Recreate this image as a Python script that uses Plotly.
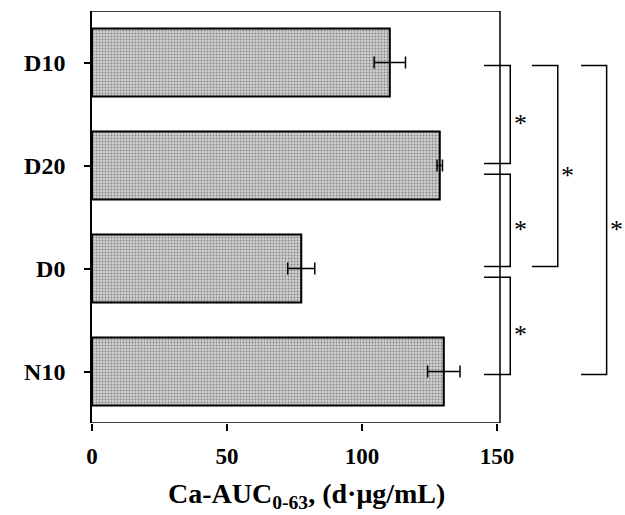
import plotly.graph_objects as go

# ---- data ----
categories = ["N10", "D0", "D20", "D10"]          # bottom -> top
values = [130.3, 77.5, 128.8, 110.3]
errors = [6.0, 5.0, 1.0, 5.8]
x_ticks = [0, 50, 100, 150]
x_title = "Ca-AUC<sub>0-63</sub>, (d·μg/mL)"
# significance comparisons: (upper category, lower category, column, label)
comparisons = [
    ("D10", "D20", 0, "*"),
    ("D20", "D0", 0, "*"),
    ("D0", "N10", 0, "*"),
    ("D10", "D0", 1, "*"),
    ("D10", "N10", 2, "*"),
]

pos = {c: i for i, c in enumerate(categories)}
ypos = list(range(len(categories)))

FONT = "Liberation Serif"
XMAX = 197.4
FRAME_R = 151.1

fig = go.Figure()
fig.add_trace(go.Bar(
    y=ypos, x=values, orientation="h", width=0.66,
    marker=dict(color="#a8a8a8", line=dict(color="black", width=2),
                pattern=dict(shape=".", fgcolor="#3a3a3a", bgcolor="#cfcfcf",
                             size=3, solidity=0.3)),
    error_x=dict(type="data", array=errors, symmetric=True, color="black",
                 thickness=1.5, width=6),
    showlegend=False,
))

# brackets
col_x = [(145.2, 154.9), (162.9, 172.5), (181.1, 190.6)]
ymax_c, ymin_c = max(ypos), min(ypos)
for hi, lo, col, lab in comparisons:
    yh, yl = pos[hi], pos[lo]
    top = yh - (0.03 if yh == ymax_c else 0.085)
    bot = yl + (0.02 if yl != ymin_c else -0.03)
    x0, x1 = col_x[col]
    fig.add_trace(go.Scatter(
        x=[x0, x1, x1, x0], y=[top, top, bot, bot], mode="lines",
        line=dict(color="black", width=1.5), showlegend=False, hoverinfo="skip",
        cliponaxis=False,
    ))
    fig.add_annotation(x=x1, y=(top + bot) / 2, xref="x", yref="y",
                       text=lab, showarrow=False, xanchor="center", yanchor="middle",
                       xshift=10, yshift=-9,
                       font=dict(family=FONT, size=26, color="black"))

# frame (top, right, bottom) over 0..150 region
for (xa, ya, xb, yb) in [(0, 3.5, FRAME_R, 3.5), (FRAME_R, 3.5, FRAME_R, -0.5),
                         (0, -0.5, FRAME_R, -0.5)]:
    fig.add_shape(type="line", x0=xa, y0=ya, x1=xb, y1=yb, xref="x", yref="y",
                  line=dict(color="black", width=1.5), layer="above")

fig.add_annotation(x=75, y=0, xref="x", yref="paper", text=x_title, showarrow=False,
                   xanchor="center", yanchor="middle", xshift=12, yshift=-72,
                   font=dict(family=FONT, size=28, color="black", weight="bold"))

fig.update_layout(
    width=625, height=515,
    margin=dict(l=92, r=0, t=11, b=92, autoexpand=False),
    plot_bgcolor="white", paper_bgcolor="white",
    xaxis=dict(range=[0, XMAX], tickvals=x_ticks, ticks="outside", ticklen=7,
               tickwidth=1.5, tickcolor="black", showline=False, showgrid=False,
               zeroline=False, ticklabelstandoff=5, automargin=False,
               tickfont=dict(family=FONT, size=23, color="black", weight="bold")),
    yaxis=dict(range=[-0.5, 3.5], tickvals=ypos, ticktext=categories,
               ticks="outside", ticklen=6, tickwidth=1.5, tickcolor="black",
               showline=True, linecolor="black", linewidth=1.5, showgrid=False,
               zeroline=False, ticklabelstandoff=14, automargin=False,
               tickfont=dict(family=FONT, size=24, color="black", weight="bold")),
)

fig.write_html("out.html", config={"displayModeBar": False},
               post_script="document.body.style.margin='0';")
